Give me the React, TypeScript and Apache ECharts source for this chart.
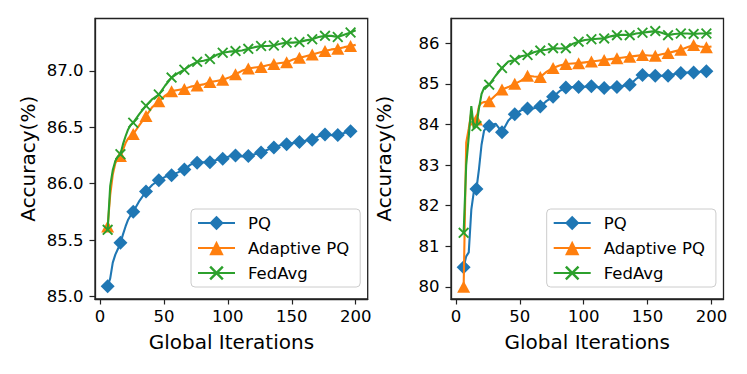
import React, { useEffect, useRef } from "react";
import * as echarts from "echarts";

// Global iterations (x values) shared by both panels
const iterations = [
  6, 8, 10, 12, 14, 16, 18, 20, 22, 24, 26, 31, 36, 41, 46, 51, 56, 61, 66, 71, 76, 81, 86, 91, 96,
  101, 106, 111, 116, 121, 126, 131, 136, 141, 146, 151, 156, 161, 166, 171, 176, 181, 186, 191, 196, 200,
];

// Left panel
const leftPQ = [
  85.09, 85.16, 85.3, 85.37, 85.42, 85.475, 85.55, 85.62, 85.68, 85.72, 85.75, 85.85, 85.93, 85.99, 86.03,
  86.06, 86.075, 86.1, 86.125, 86.17, 86.185, 86.19, 86.19, 86.21, 86.22, 86.24, 86.25, 86.24, 86.245, 86.26,
  86.275, 86.3, 86.32, 86.34, 86.35, 86.36, 86.37, 86.38, 86.39, 86.42, 86.435, 86.43, 86.43, 86.45, 86.465, 86.47,
];
const leftAdaptivePQ = [
  85.62, 85.9, 86.08, 86.18, 86.22, 86.245, 86.3, 86.36, 86.4, 86.42, 86.44, 86.52, 86.6, 86.68, 86.73,
  86.78, 86.82, 86.83, 86.84, 86.86, 86.87, 86.88, 86.9, 86.91, 86.92, 86.94, 86.97, 87.0, 87.02, 87.03,
  87.035, 87.05, 87.06, 87.07, 87.075, 87.1, 87.115, 87.13, 87.145, 87.16, 87.175, 87.19, 87.195, 87.21, 87.22, 87.23,
];
const leftFedAvg = [
  85.59, 85.98, 86.12, 86.2, 86.24, 86.26, 86.35, 86.42, 86.48, 86.52, 86.54, 86.62, 86.69, 86.75, 86.79,
  86.87, 86.94, 86.98, 87.01, 87.05, 87.08, 87.09, 87.105, 87.14, 87.16, 87.17, 87.175, 87.18, 87.195, 87.21,
  87.22, 87.22, 87.225, 87.24, 87.25, 87.25, 87.255, 87.27, 87.28, 87.3, 87.31, 87.31, 87.3, 87.32, 87.34, 87.36,
];

// Right panel
const rightPQ = [
  80.48, 80.75, 80.85, 81.9, 82.35, 82.41, 82.9, 83.5, 83.85, 83.93, 83.96, 84.02, 83.81, 84.1, 84.25,
  84.35, 84.39, 84.4, 84.44, 84.58, 84.68, 84.82, 84.91, 84.92, 84.92, 84.93, 84.94, 84.92, 84.9, 84.91,
  84.92, 84.95, 84.98, 85.12, 85.22, 85.21, 85.2, 85.2, 85.2, 85.24, 85.27, 85.28, 85.28, 85.3, 85.31, 85.31,
];
const rightAdaptivePQ = [
  80.0, 83.55, 83.9, 84.3, 83.9, 84.12, 84.45, 84.53, 84.55, 84.56, 84.57, 84.72, 84.86, 84.92, 85.0,
  85.08, 85.2, 85.18, 85.17, 85.3, 85.39, 85.45, 85.49, 85.5, 85.51, 85.53, 85.55, 85.57, 85.59, 85.61,
  85.63, 85.65, 85.67, 85.69, 85.71, 85.7, 85.69, 85.73, 85.76, 85.8, 85.84, 85.9, 85.96, 85.92, 85.9, 85.92,
];
const rightFedAvg = [
  81.33, 83.0, 83.7, 84.45, 83.9, 83.96, 84.4, 84.75, 84.9, 84.95, 84.98, 85.2, 85.39, 85.55, 85.59,
  85.68, 85.71, 85.78, 85.82, 85.84, 85.88, 85.87, 85.88, 85.98, 86.04, 86.08, 86.1, 86.11, 86.12, 86.17,
  86.2, 86.21, 86.2, 86.24, 86.26, 86.28, 86.3, 86.26, 86.2, 86.23, 86.24, 86.24, 86.23, 86.24, 86.24, 86.25,
];

const xTicks = [0, 50, 100, 150, 200];
const leftYTicks = [85.0, 85.5, 86.0, 86.5, 87.0];
const rightYTicks = [80, 81, 82, 83, 84, 85, 86];
const seriesNames = ["PQ", "Adaptive PQ", "FedAvg"];
const colors = ["#1f77b4", "#ff7f0e", "#2ca02c"];

const FONT = "DejaVu Sans";
const X_PATH =
  "path://M0,1.2L1.2,0L5,3.8L8.8,0L10,1.2L6.2,5L10,8.8L8.8,10L5,6.2L1.2,10L0,8.8L3.8,5Z";

function buildData(vals: number[]) {
  return iterations.map((x, i) =>
    x % 10 === 6 ? [x, vals[i]] : { value: [x, vals[i]], symbol: "none" }
  );
}

function makeSeries(gridIdx: number, sets: number[][]) {
  const symbols: any[] = ["diamond", "triangle", X_PATH];
  const sizes: any[] = [14, [13, 12], 11];
  return sets.map((vals, k) => ({
    type: "line",
    name: seriesNames[k],
    xAxisIndex: gridIdx,
    yAxisIndex: gridIdx,
    data: buildData(vals),
    symbol: symbols[k],
    symbolSize: sizes[k],
    showAllSymbol: true,
    lineStyle: { color: colors[k], width: 2.1 },
    itemStyle: { color: colors[k], borderColor: colors[k], borderWidth: 0, opacity: 1 },
    emphasis: { disabled: true },
    z: 2 + k,
  }));
}

function xAxisCfg(gridIndex: number) {
  return {
    type: "value",
    gridIndex,
    min: -3.9,
    max: 209.4,
    axisLine: { show: true, onZero: false, lineStyle: { color: "#222", width: 1.3 } },
    splitLine: { show: false },
    axisTick: { show: true, length: 5.5, customValues: xTicks, lineStyle: { color: "#222", width: 1.2 } },
    axisLabel: { customValues: xTicks, fontSize: 16.5, color: "#000", fontFamily: FONT, margin: 9 },
    name: "Global Iterations",
    nameLocation: "middle",
    nameGap: 33,
    nameTextStyle: { fontSize: 20, color: "#000", fontFamily: FONT },
  };
}

function yAxisCfg(gridIndex: number, min: number, max: number, ticks: number[], decimals: number) {
  return {
    type: "value",
    gridIndex,
    min,
    max,
    axisLine: { show: true, onZero: false, lineStyle: { color: "#222", width: 1.3 } },
    splitLine: { show: false },
    axisTick: { show: true, length: 5.5, customValues: ticks, lineStyle: { color: "#222", width: 1.2 } },
    axisLabel: {
      customValues: ticks,
      fontSize: 16.5,
      color: "#000",
      fontFamily: FONT,
      margin: 11.5,
      formatter: (v: number) => v.toFixed(decimals),
    },
    name: "Accuracy(%)",
    nameLocation: "middle",
    nameGap: 57,
    nameTextStyle: { fontSize: 20, color: "#000", fontFamily: FONT },
  };
}

function legendCfg(left: number) {
  return {
    data: seriesNames,
    orient: "vertical",
    left,
    top: 209,
    itemWidth: 37,
    itemHeight: 18,
    itemGap: 7,
    padding: [5, 11, 5, 6],
    selectedMode: false,
    borderColor: "#cccccc",
    borderWidth: 1,
    borderRadius: 4,
    backgroundColor: "rgba(255,255,255,0.8)",
    textStyle: { fontSize: 16.5, color: "#000", fontFamily: FONT, lineHeight: 18, padding: [0, 0, 0, 8] },
  };
}

export default function App() {
  const ref = useRef<HTMLDivElement>(null);
  useEffect(() => {
    if (!ref.current) return;
    const chart = echarts.init(ref.current, undefined, { renderer: "svg" });
    chart.setOption({
      animation: false,
      backgroundColor: "#ffffff",
      grid: [
        { left: 95, top: 18.5, width: 272.7, height: 280.5, show: true, borderColor: "#222", borderWidth: 1.3, backgroundColor: "transparent" },
        { left: 451, top: 18.5, width: 272.5, height: 280.5, show: true, borderColor: "#222", borderWidth: 1.3, backgroundColor: "transparent" },
      ],
      xAxis: [xAxisCfg(0), xAxisCfg(1)],
      yAxis: [yAxisCfg(0, 84.977, 87.464, leftYTicks, 1), yAxisCfg(1, 79.7, 86.61, rightYTicks, 0)],
      legend: [legendCfg(191), legendCfg(546.7)],
      series: [
        ...makeSeries(0, [leftPQ, leftAdaptivePQ, leftFedAvg]),
        ...makeSeries(1, [rightPQ, rightAdaptivePQ, rightFedAvg]),
      ],
    });
    return () => chart.dispose();
  }, []);
  return (
    <div
      ref={ref}
      style={{ position: "absolute", left: 0, top: 0, width: 747, height: 374, background: "#fff" }}
    />
  );
}
